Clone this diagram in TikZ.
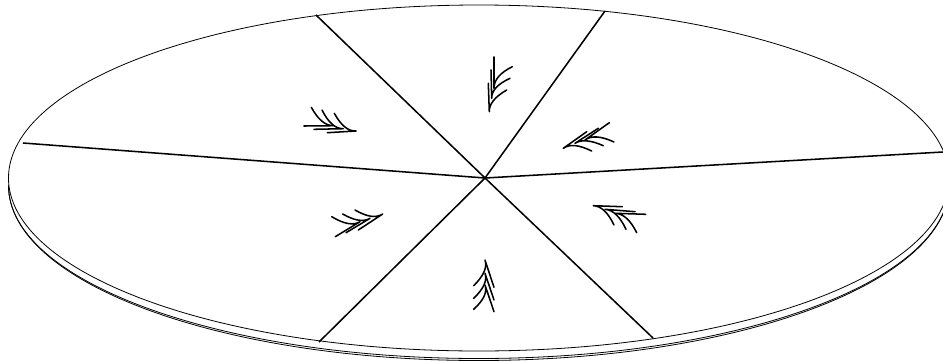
\documentclass[tikz,border=0pt]{standalone}
\usetikzlibrary{calc}
\tikzset{
  rim/.style={line width=0.6pt},
  spoke/.style={line width=1.15pt},
  flowline/.style={line width=1.15pt,line cap=round,line join=round}
}
% one chevron of a flow mark: tip, tail of the shaft, end of the barb
\newcommand{\flowmark}[3]{\draw[flowline] #2 -- #1 .. controls ($#1!.27!#2$) and ($#3!.67!($#1!.4!#2$)$) .. #3;}
\begin{document}
\begin{tikzpicture}[x=0.75pt,y=-0.75pt]
\useasboundingbox (0,0) rectangle (943,361);
\clip (0,0) rectangle (943,361);
% disc
\draw[rim] (478.8,178) ellipse [x radius=470.3,y radius=173];
\draw[rim] (8.5,185.5) arc[start angle=180,end angle=0,x radius=470.3,y radius=173];
\draw[rim] (8.5,185.5) arc[start angle=180,end angle=0,x radius=470.3,y radius=175];
% spokes
\coordinate (hub) at (485,178);
\draw[spoke] (hub) -- (316,15);
\draw[spoke] (hub) -- (605,11);
\draw[spoke] (hub) -- (943,152);
\draw[spoke] (hub) -- (23,143);
\draw[spoke] (hub) -- (319,342);
\draw[spoke] (hub) -- (653,338);
% top
\flowmark{(489.3,111.7)}{(488.3,83.3)}{(506.7,90)}
\flowmark{(491.7,98.3)}{(491,70)}{(510,78.3)}
\flowmark{(494,88.3)}{(494,57)}{(512.3,66.7)}
% upper left
\flowmark{(356,131)}{(327.3,132.7)}{(334.3,113.3)}
\flowmark{(343.3,128.7)}{(314,129.3)}{(322,110)}
\flowmark{(333.3,125.7)}{(304,126)}{(311.3,107.3)}
% upper right
\flowmark{(563.3,148.3)}{(586.7,131.7)}{(591.7,151)}
\flowmark{(575,143.3)}{(598.3,128.3)}{(603.3,145.7)}
\flowmark{(585,140)}{(609.3,122.7)}{(614,142)}
% lower left
\flowmark{(382.7,214)}{(358.3,230)}{(355,210)}
\flowmark{(370,218.3)}{(346,232.7)}{(342.7,214)}
\flowmark{(360,221.7)}{(335.3,236.7)}{(331.7,216.7)}
% bottom
\flowmark{(485,260)}{(494,287.3)}{(473.7,285.7)}
\flowmark{(485,273.3)}{(494,300)}{(473.7,298.3)}
\flowmark{(485,285)}{(494,311.7)}{(473.7,309.3)}
% lower right
\flowmark{(593.3,205.7)}{(622.3,206.7)}{(614,225)}
\flowmark{(605,209.3)}{(635,211.7)}{(626,229.3)}
\flowmark{(615,213.3)}{(645.7,214.3)}{(636.7,232.7)}
\end{tikzpicture}
\end{document}
